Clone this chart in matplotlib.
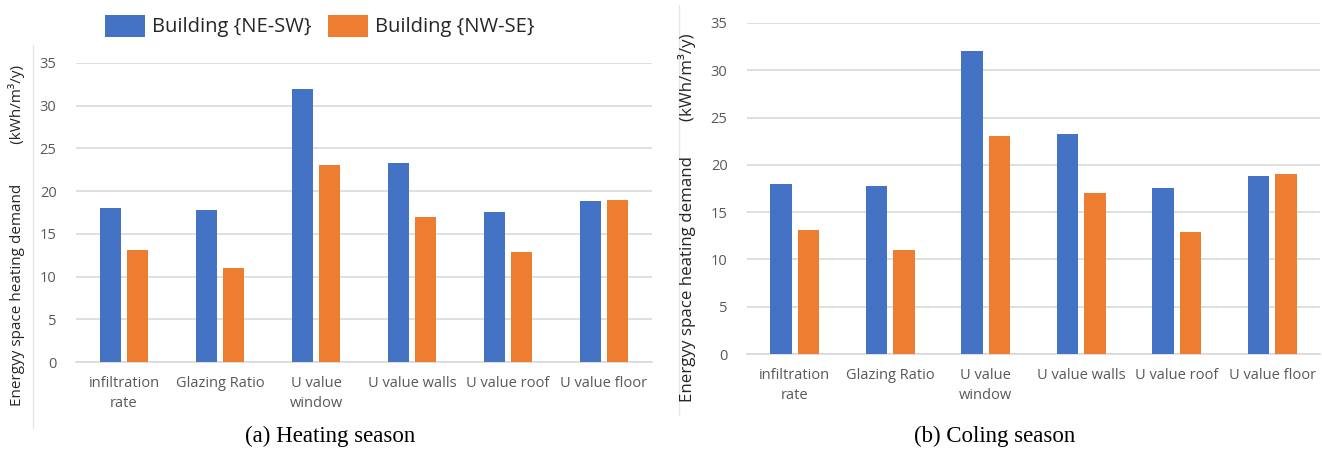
import matplotlib
matplotlib.use("Agg")
import matplotlib.pyplot as plt
import numpy as np
from matplotlib.lines import Line2D

categories = ["infiltration\nrate", "Glazing Ratio", "U value\nwindow", "U value walls", "U value roof", "U value floor"]
series_names = ["Building {NE-SW}", "Building {NW-SE}"]
heating_ne_sw = [18.0, 17.8, 32.0, 23.3, 17.6, 18.8]
heating_nw_se = [13.1, 11.0, 23.1, 17.0, 12.9, 19.0]
cooling_ne_sw = [18.0, 17.8, 32.0, 23.3, 17.6, 18.8]
cooling_nw_se = [13.1, 11.0, 23.1, 17.0, 12.9, 19.0]
yticks = [0, 5, 10, 15, 20, 25, 30, 35]
captions = ["(a) Heating season", "(b) Coling season"]
ylabel_main = "Energyy space heating demand"
ylabel_unit = "(kWh/m\u00b3/y)"

BLUE = "#4472C4"
ORANGE = "#ED7D31"
GRID = "#D9D9D9"
TICK = "#595959"
SANS = ["Open Sans", "DejaVu Sans"]

W, H = 1322, 449
fig = plt.figure(figsize=(W / 100, H / 100), dpi=100)

def px_axes(x0, x1, y_top, y_bot):
    return fig.add_axes([x0 / W, 1 - y_bot / H, (x1 - x0) / W, (y_bot - y_top) / H])

ax1 = px_axes(76, 652, 63, 362)
ax2 = px_axes(747, 1320, 23, 354)

x = np.arange(len(categories))
bw = 0.225
off = 0.142
handles = None
for ax, a, b in [(ax1, heating_ne_sw, heating_nw_se), (ax2, cooling_ne_sw, cooling_nw_se)]:
    h1 = ax.bar(x - off, a, bw, color=BLUE, label=series_names[0], zorder=3)
    h2 = ax.bar(x + off, b, bw, color=ORANGE, label=series_names[1], zorder=3)
    handles = [h1, h2]
    ax.set_xlim(-0.5, len(categories) - 0.5)
    ax.set_ylim(0, 35)
    ax.set_yticks(yticks)
    ax.grid(axis="y", color=GRID, linewidth=1.2, zorder=0)
    ax.set_axisbelow(True)
    for s in ["top", "right", "left"]:
        ax.spines[s].set_visible(False)
    ax.spines["bottom"].set_color(GRID)
    ax.spines["bottom"].set_linewidth(1.2)
    ax.tick_params(axis="both", length=0, colors=TICK, labelsize=10.5, pad=14)
    ax.tick_params(axis="x", pad=10)
    ax.set_xticks(x)
    ax.set_xticklabels(categories, fontfamily=SANS, linespacing=1.5)
    for lab in ax.get_yticklabels():
        lab.set_fontfamily(SANS)

# y-axis titles
fig.text(17 / W, 1 - 406 / H, ylabel_main + " " * 10 + ylabel_unit, rotation=90,
         ha="center", va="bottom", fontfamily=SANS, fontsize=11, color="#262626")
fig.text(687 / W, 1 - 402 / H, ylabel_main + " " * 8 + ylabel_unit, rotation=90,
         ha="center", va="bottom", fontfamily=SANS, fontsize=12.2, color="#262626")

# panel border lines
fig.add_artist(Line2D([33 / W, 33 / W], [1 - 428 / H, 1 - 45 / H], color="#E6E6E6", linewidth=1))
fig.add_artist(Line2D([679 / W, 679 / W], [1 - 415 / H, 1 - 5 / H], color="#E6E6E6", linewidth=1))

fig.legend(handles, series_names, loc="center", bbox_to_anchor=(320 / W, 1 - 26 / H),
           ncol=2, frameon=False, prop={"family": SANS, "size": 14.5},
           handlelength=2.0, handleheight=1.3, columnspacing=0.8, handletextpad=0.35,
           labelcolor="#262626")

fig.text(330 / W, 1 - 436 / H, captions[0], ha="center", va="center",
         fontfamily="Liberation Serif", fontsize=16.5)
fig.text(995 / W, 1 - 436 / H, captions[1], ha="center", va="center",
         fontfamily="Liberation Serif", fontsize=16.5)

fig.savefig("out.png", dpi=100)
